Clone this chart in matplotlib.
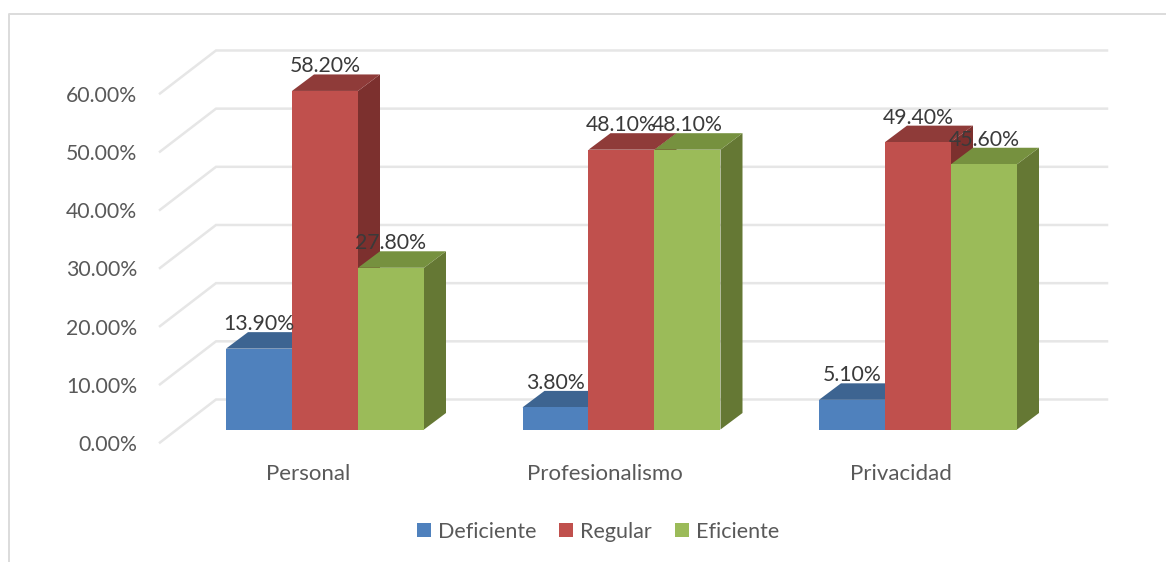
import matplotlib

matplotlib.use("Agg")
import matplotlib.pyplot as plt
from matplotlib.patches import Patch, Polygon

CATEGORIES = ["Personal", "Profesionalismo", "Privacidad"]
SERIES = ["Deficiente", "Regular", "Eficiente"]
DEFICIENTE = [13.9, 3.8, 5.1]
REGULAR = [58.2, 48.1, 49.4]
EFICIENTE = [27.8, 48.1, 45.6]
Y_TICKS = [0, 10, 20, 30, 40, 50, 60]

FRONT_COLORS = ["#4F81BD", "#C0504D", "#9BBB59"]
TOP_COLORS = ["#3D6491", "#8F3B39", "#76913F"]
SIDE_COLORS = ["#355679", "#7C302E", "#657834"]
GRID_COLOR = "#E6E6E6"
FRAME_COLOR = "#DCDCDC"
TICK_COLOR = "#595959"
LABEL_COLOR = "#3A3A3A"
FONT = "Lato"
NUMBER_SIZE = 15.3
NAME_SIZE = 16.0
LEGEND_SIZE = 15.5

WIDTH_PX, HEIGHT_PX = 1166, 562
BASE_PX = 429.5  # y pixel of the bars' front base
PX_PER_PERCENT = 5.817
PX_PER_GROUP = 296.5
FIRST_GROUP_PX = 325.0

BAR_W = 66 / PX_PER_GROUP
DEPTH_X = 22 / PX_PER_GROUP
DEPTH_Y = 16.5 / PX_PER_PERCENT

# the floor of the box reaches further than the bars, both ways
WALL_LEFT = (160 - FIRST_GROUP_PX) / PX_PER_GROUP
WALL_BACK = (216 - FIRST_GROUP_PX) / PX_PER_GROUP
WALL_RIGHT = (1107 - FIRST_GROUP_PX) / PX_PER_GROUP
FLOOR_FRONT = (BASE_PX - 442.5) / PX_PER_PERCENT
FLOOR_BACK = (BASE_PX - 399.5) / PX_PER_PERCENT


def draw_bar(ax, x, value, idx):
    left, right = x - BAR_W / 2, x + BAR_W / 2
    side = [(right, 0), (right + DEPTH_X, DEPTH_Y), (right + DEPTH_X, value + DEPTH_Y), (right, value)]
    top = [(left, value), (left + DEPTH_X, value + DEPTH_Y), (right + DEPTH_X, value + DEPTH_Y), (right, value)]
    ax.add_patch(Polygon(side, closed=True, fc=SIDE_COLORS[idx], ec="none", zorder=3))
    ax.add_patch(Polygon(top, closed=True, fc=TOP_COLORS[idx], ec="none", zorder=3))
    ax.bar(x, value, width=BAR_W, color=FRONT_COLORS[idx], linewidth=0, zorder=3)


def main():
    plt.rcParams["font.family"] = [FONT, "DejaVu Sans"]
    fig = plt.figure(figsize=(WIDTH_PX / 100, HEIGHT_PX / 100), dpi=100)
    ax = fig.add_axes([0, 0, 1, 1])
    ax.set_xlim(-FIRST_GROUP_PX / PX_PER_GROUP, (WIDTH_PX - FIRST_GROUP_PX) / PX_PER_GROUP)
    ax.set_ylim((BASE_PX - HEIGHT_PX) / PX_PER_PERCENT, BASE_PX / PX_PER_PERCENT)
    ax.axis("off")

    # chart frame, only the top and left edges are in view
    fig.add_artist(plt.Line2D([1.0, 8.5 / WIDTH_PX, 8.5 / WIDTH_PX],
                              [1 - 14 / HEIGHT_PX, 1 - 14 / HEIGHT_PX, 0],
                              color=FRAME_COLOR, lw=1.4))

    for tick in Y_TICKS:
        ax.plot([WALL_LEFT, WALL_BACK, WALL_RIGHT],
                [tick + FLOOR_FRONT, tick + FLOOR_BACK, tick + FLOOR_BACK],
                color=GRID_COLOR, lw=1.8, solid_joinstyle="miter", zorder=1)
        ax.text((137 - FIRST_GROUP_PX) / PX_PER_GROUP, tick + FLOOR_FRONT - 2.5 / PX_PER_PERCENT,
                f"{tick:.2f}%", ha="right", va="center", color=TICK_COLOR, fontsize=NUMBER_SIZE)

    columns = [DEFICIENTE, REGULAR, EFICIENTE]
    for group, name in enumerate(CATEGORIES):
        for idx, values in enumerate(columns):
            draw_bar(ax, group + (idx - 1) * BAR_W, values[group], idx)
        ax.text(group - 17 / PX_PER_GROUP, (BASE_PX - 473.5) / PX_PER_PERCENT, name,
                ha="center", va="center", color=TICK_COLOR, fontsize=NAME_SIZE)

    # value labels go last, they sit over neighbouring bars
    for group in range(len(CATEGORIES)):
        for idx, values in enumerate(columns):
            ax.text(group + (idx - 1) * BAR_W, values[group] + 24.5 / PX_PER_PERCENT,
                    f"{values[group]:.2f}%", ha="center", va="center",
                    color=LABEL_COLOR, fontsize=NUMBER_SIZE, zorder=5)

    handles = [Patch(facecolor=c, edgecolor="none", label=s) for c, s in zip(FRONT_COLORS, SERIES)]
    fig.legend(handles=handles, loc="center", bbox_to_anchor=(598 / WIDTH_PX, 1 - 531.5 / HEIGHT_PX),
               ncol=3, frameon=False, fontsize=LEGEND_SIZE, labelcolor=TICK_COLOR,
               handlelength=0.65, handleheight=0.65, handletextpad=0.33, columnspacing=1.05)

    fig.savefig("out.png", dpi=100)
    plt.close(fig)


if __name__ == "__main__":
    main()
